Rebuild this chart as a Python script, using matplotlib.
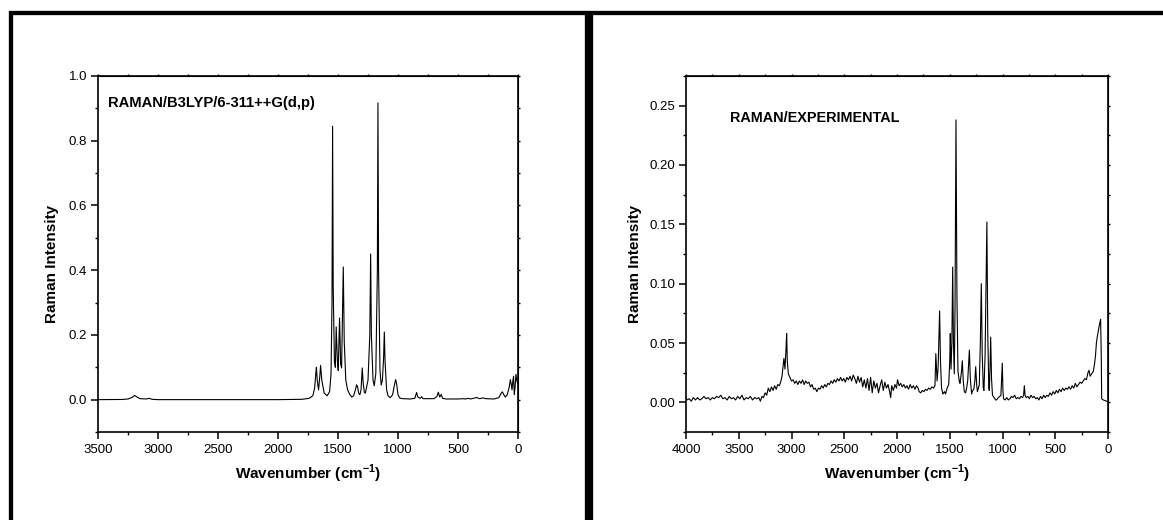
import matplotlib
matplotlib.use('Agg')
import matplotlib.pyplot as plt
from matplotlib.patches import Rectangle
from matplotlib.ticker import MultipleLocator, NullFormatter

plt.rcParams['font.family'] = ['Liberation Sans', 'DejaVu Sans']
plt.rcParams['mathtext.fontset'] = 'custom'
plt.rcParams['mathtext.rm'] = 'Liberation Sans'
plt.rcParams['mathtext.bf'] = 'Liberation Sans:bold'

# --- calculated spectrum (B3LYP/6-311++G(d,p)) ---
calc_wn = [3500, 3300, 3250, 3215, 3195, 3175, 3150, 3100, 3072, 3050, 3000, 2000,
           1800, 1740, 1710, 1695, 1685, 1680, 1673, 1662, 1652, 1645, 1635, 1615,
           1590, 1570, 1558, 1550, 1545, 1540, 1530, 1522, 1515, 1505, 1498, 1487,
           1478, 1470, 1456, 1448, 1435, 1420, 1400, 1385, 1370, 1355, 1345, 1337,
           1328, 1318, 1308, 1298, 1290, 1280, 1272, 1250, 1235, 1228, 1222, 1208,
           1198, 1185, 1172, 1167, 1162, 1150, 1140, 1130, 1120, 1114, 1108, 1095,
           1083, 1065, 1045, 1030, 1020, 1012, 1000, 985, 960, 900, 860, 845, 835,
           815, 803, 790, 700, 675, 664, 652, 640, 628, 600, 500, 460, 440, 414,
           395, 345, 320, 290, 270, 200, 160, 140, 130, 118, 106, 90, 72, 64, 57,
           50, 44, 37, 31, 24, 17, 10, 3]
calc_int = [0.0, 0.0005, 0.002, 0.007, 0.013, 0.008, 0.003, 0.002, 0.004, 0.001, 0.0, 0.0,
            0.001, 0.004, 0.012, 0.035, 0.08, 0.10, 0.06, 0.03, 0.07, 0.106, 0.06, 0.02,
            0.012, 0.025, 0.08, 0.30, 0.845, 0.35, 0.12, 0.10, 0.225, 0.12, 0.09, 0.252,
            0.11, 0.098, 0.41, 0.18, 0.06, 0.03, 0.015, 0.008, 0.012, 0.03, 0.046, 0.04,
            0.02, 0.015, 0.03, 0.098, 0.05, 0.022, 0.02, 0.06, 0.20, 0.45, 0.20, 0.06,
            0.043, 0.08, 0.40, 0.917, 0.40, 0.09, 0.045, 0.06, 0.13, 0.209, 0.12, 0.03,
            0.012, 0.006, 0.015, 0.045, 0.062, 0.05, 0.015, 0.005, 0.003, 0.002, 0.004, 0.022, 0.008,
            0.004, 0.009, 0.003, 0.003, 0.01, 0.023, 0.008, 0.016, 0.004, 0.002, 0.002, 0.003, 0.002, 0.004,
            0.002, 0.0065, 0.003, 0.0055, 0.003, 0.002, 0.006, 0.02, 0.024, 0.015, 0.008, 0.015, 0.04, 0.062, 0.05,
            0.03, 0.055, 0.072, 0.015, 0.04, 0.078, 0.06, 0.05]

# --- experimental spectrum ---
exp_wn = [4000, 3990, 3970, 3950, 3930, 3910, 3890, 3870, 3850, 3830, 3810, 3790,
          3770, 3750, 3730, 3710, 3690, 3670, 3650, 3630, 3610, 3590, 3570, 3550,
          3530, 3510, 3490, 3470, 3450, 3430, 3410, 3390, 3370, 3350, 3330, 3310,
          3295, 3280, 3265, 3250, 3235, 3220, 3205, 3190, 3175, 3160, 3145, 3130,
          3115, 3100, 3090, 3080, 3072, 3062, 3052, 3046, 3040, 3030, 3015, 3000,
          2985, 2970, 2955, 2940, 2925, 2910, 2895, 2880, 2865, 2850, 2835, 2820,
          2805, 2790, 2775, 2760, 2745, 2730, 2715, 2700, 2685, 2670, 2655, 2640,
          2625, 2610, 2595, 2580, 2565, 2550, 2535, 2520, 2505, 2490, 2475, 2460,
          2445, 2430, 2415, 2400, 2385, 2370, 2355, 2340, 2325, 2310, 2295, 2280,
          2265, 2250, 2235, 2220, 2205, 2190, 2175, 2160, 2145, 2130, 2115, 2100,
          2085, 2070, 2060, 2050, 2035, 2020, 2005, 1995, 1980, 1965, 1950, 1935,
          1920, 1905, 1890, 1875, 1860, 1845, 1830, 1815, 1800, 1790, 1775, 1760,
          1745, 1730, 1715, 1700, 1685, 1670, 1655, 1640, 1632, 1620, 1610, 1596,
          1588, 1578, 1565, 1550, 1540, 1525, 1510, 1500, 1495, 1488, 1480, 1472,
          1465, 1457, 1450, 1441, 1432, 1422, 1410, 1403, 1390, 1381, 1372, 1362,
          1350, 1340, 1330, 1314, 1305, 1293, 1282, 1272, 1262, 1254, 1245, 1238,
          1228, 1220, 1210, 1201, 1192, 1182, 1176, 1165, 1156, 1148, 1140, 1130,
          1125, 1118, 1112, 1104, 1095, 1080, 1065, 1056, 1040, 1025, 1015, 1008,
          1002, 996, 990, 975, 960, 945, 930, 915, 900, 885, 870, 855,
          840, 825, 810, 800, 793, 786, 775, 760, 745, 730, 715, 700,
          685, 670, 655, 640, 625, 610, 595, 580, 565, 550, 535, 520,
          505, 490, 475, 460, 445, 430, 415, 400, 385, 370, 355, 340,
          325, 310, 295, 280, 265, 250, 235, 220, 205, 190, 180, 170,
          155, 140, 128, 118, 110, 100, 90, 80, 70, 64, 60, 45,
          30, 15, 0]
exp_int = [0.004, 0.002, 0.003, 0.001, 0.004, 0.002, 0.004, 0.002, 0.003, 0.005, 0.003, 0.004,
           0.002, 0.004, 0.003, 0.005, 0.004, 0.006, 0.003, 0.004, 0.002, 0.005, 0.003, 0.004,
           0.002, 0.005, 0.003, 0.006, 0.002, 0.004, 0.003, 0.005, 0.002, 0.004, 0.003, 0.004,
           0.001, 0.005, 0.004, 0.008, 0.006, 0.012, 0.009, 0.013, 0.010, 0.014, 0.011, 0.015,
           0.014, 0.018, 0.022, 0.030, 0.037, 0.028, 0.045, 0.058, 0.035, 0.024, 0.021, 0.018,
           0.019, 0.016, 0.018, 0.015, 0.018, 0.016, 0.019, 0.015, 0.018, 0.016, 0.017, 0.013,
           0.015, 0.011, 0.012, 0.009, 0.012, 0.011, 0.014, 0.012, 0.015, 0.013, 0.016, 0.015,
           0.018, 0.016, 0.019, 0.017, 0.020, 0.018, 0.021, 0.018, 0.020, 0.017, 0.021, 0.019,
           0.022, 0.018, 0.023, 0.020, 0.016, 0.022, 0.017, 0.021, 0.013, 0.019, 0.012, 0.020,
           0.010, 0.021, 0.008, 0.018, 0.012, 0.016, 0.008, 0.014, 0.019, 0.010, 0.017, 0.012,
           0.015, 0.009, 0.004, 0.014, 0.010, 0.015, 0.012, 0.019, 0.014, 0.016, 0.013, 0.015,
           0.012, 0.014, 0.011, 0.015, 0.012, 0.014, 0.011, 0.014, 0.012, 0.009, 0.008, 0.010,
           0.009, 0.011, 0.010, 0.012, 0.011, 0.013, 0.012, 0.014, 0.041, 0.018, 0.030, 0.077,
           0.035, 0.012, 0.007, 0.009, 0.007, 0.012, 0.015, 0.035, 0.058, 0.028, 0.050, 0.114,
           0.050, 0.024, 0.080, 0.238, 0.090, 0.026, 0.018, 0.016, 0.025, 0.035, 0.018, 0.009,
           0.008, 0.012, 0.018, 0.044, 0.020, 0.007, 0.010, 0.011, 0.018, 0.030, 0.015, 0.009,
           0.012, 0.015, 0.050, 0.100, 0.040, 0.012, 0.010, 0.040, 0.100, 0.152, 0.060, 0.012,
           0.010, 0.030, 0.055, 0.020, 0.006, 0.004, 0.002, 0.002, 0.004, 0.005, 0.006, 0.020,
           0.033, 0.010, 0.003, 0.002, 0.004, 0.002, 0.003, 0.005, 0.004, 0.006, 0.003, 0.004,
           0.003, 0.005, 0.004, 0.006, 0.014, 0.006, 0.004, 0.005, 0.003, 0.006, 0.004, 0.005,
           0.003, 0.004, 0.002, 0.005, 0.003, 0.006, 0.004, 0.006, 0.005, 0.008, 0.006, 0.009,
           0.007, 0.010, 0.008, 0.011, 0.009, 0.012, 0.010, 0.012, 0.011, 0.013, 0.011, 0.014,
           0.012, 0.016, 0.013, 0.015, 0.017, 0.016, 0.018, 0.020, 0.019, 0.025, 0.027, 0.022,
           0.024, 0.026, 0.032, 0.040, 0.050, 0.056, 0.061, 0.066, 0.070, 0.040, 0.003, 0.002,
           0.0015, 0.001, 0.0005]

W, H = 1163, 520
fig = plt.figure(figsize=(W / 100, H / 100), dpi=100)

# thick frames around each panel
for x0, x1 in [(11, 587), (591, 1175)]:
    fig.patches.append(Rectangle((x0 / W, -0.1), (x1 - x0) / W, (H - 13) / H + 0.1,
                                 transform=fig.transFigure, fill=False,
                                 edgecolor='black', linewidth=3.1))


def style_axes(ax, xmax, xmajor, ymaj, ymin, ylim):
    ax.set_xlim(xmax, 0)
    ax.set_ylim(*ylim)
    ax.xaxis.set_major_locator(MultipleLocator(xmajor))
    ax.xaxis.set_minor_locator(MultipleLocator(xmajor / 2))
    ax.yaxis.set_major_locator(MultipleLocator(ymaj))
    ax.yaxis.set_minor_locator(MultipleLocator(ymin))
    for s in ax.spines.values():
        s.set_linewidth(1.2)
    ax.tick_params(which='major', direction='out', length=5, width=1.1,
                   labelsize=9.5, pad=2.8)
    ax.tick_params(which='minor', direction='out', length=2.3, width=1.0)
    ax.tick_params(axis='x', pad=3.4)
    top = ax.secondary_xaxis('top')
    top.xaxis.set_major_locator(MultipleLocator(xmajor / 2))
    top.xaxis.set_major_formatter(NullFormatter())
    top.tick_params(direction='out', length=1.6, width=1.0)
    right = ax.secondary_yaxis('right')
    right.yaxis.set_major_locator(MultipleLocator(ymin))
    right.yaxis.set_major_formatter(NullFormatter())
    right.tick_params(direction='out', length=1.6, width=1.0)
    ax.set_xlabel(r'Wavenumber (cm$^{\mathbf{-1}}$)', fontsize=11, fontweight='bold',
                  va='baseline')
    ax.set_ylabel('Raman Intensity', fontsize=11, fontweight='bold', va='center')


# left: calculated
ax1 = fig.add_axes([98 / W, (H - 432) / H, 420 / W, 356 / H])
ax1.plot(calc_wn, calc_int, color='black', linewidth=0.8)
style_axes(ax1, 3500, 500, 0.2, 0.1, (-0.1, 1.0))
ax1.yaxis.set_major_formatter(matplotlib.ticker.FormatStrFormatter('%.1f'))
ax1.xaxis.set_label_coords(0.5, -(479 - 432) / 356)
ax1.yaxis.set_label_coords((52.5 - 98) / 420, (432 - 264) / 356)
ax1.text(108 / W, (H - 107) / H, 'RAMAN/B3LYP/6-311++G(d,p)', transform=fig.transFigure,
         fontsize=10.6, fontweight='bold', va='baseline', ha='left')

# right: experimental
ax2 = fig.add_axes([686 / W, (H - 432) / H, 422 / W, 356 / H])
ax2.plot(exp_wn, exp_int, color='black', linewidth=0.8)
style_axes(ax2, 4000, 500, 0.05, 0.025, (-0.025, 0.275))
ax2.yaxis.set_major_formatter(matplotlib.ticker.FormatStrFormatter('%.2f'))
ax2.xaxis.set_label_coords(0.5, -(479 - 432) / 356)
ax2.yaxis.set_label_coords((634.5 - 686) / 422, (432 - 264) / 356)
ax2.text(730 / W, (H - 122) / H, 'RAMAN/EXPERIMENTAL', transform=fig.transFigure,
         fontsize=10.4, fontweight='bold', va='baseline', ha='left')

fig.savefig('out.png', dpi=100)
